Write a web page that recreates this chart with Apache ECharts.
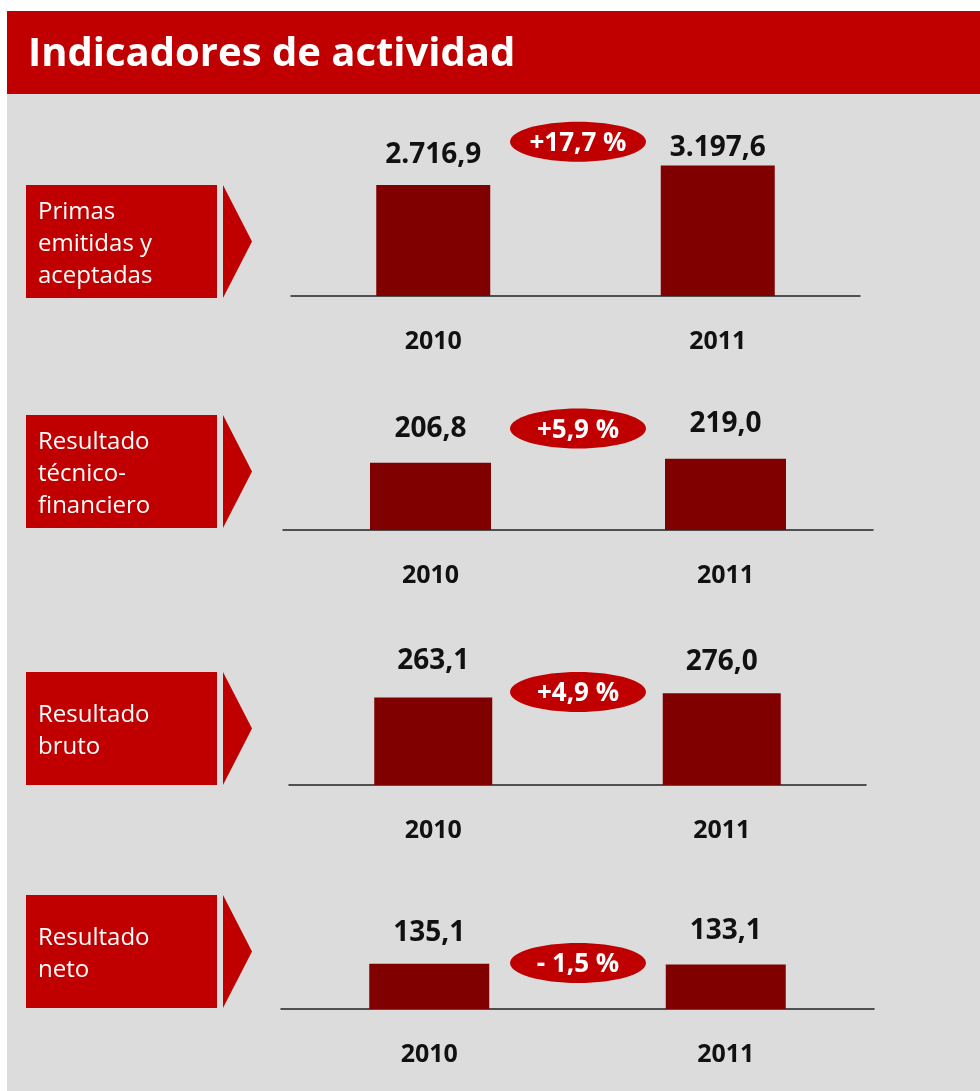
<!DOCTYPE html>
<html>
<head>
<meta charset="utf-8">
<script src="https://cdn.jsdelivr.net/npm/echarts@6/dist/echarts.min.js"></script>
<style>
html,body{margin:0;padding:0;background:#fff;}
#chart{width:980px;height:1091px;}
</style>
</head>
<body>
<div id="chart"></div>
<script>
// ---- data ----
const title = 'Indicadores de actividad';
const categories = ['2010', '2011'];
const panelTitles = ['Primas\nemitidas y\naceptadas', 'Resultado\ntécnico-\nfinanciero', 'Resultado\nbruto', 'Resultado\nneto'];
const primas = [2716.9, 3197.6];
const tecnico = [206.8, 219.0];
const bruto = [263.1, 276.0];
const neto = [135.1, 133.1];
const changes = ['+17,7 %', '+5,9 %', '+4,9 %', '- 1,5 %'];
const seriesData = [primas, tecnico, bruto, neto];

// ---- layout ----
const RED = '#c00000', BAR = '#800000', GRAY = '#dcdcdc';
const FONT = '"Open Sans", "DejaVu Sans", sans-serif';
const layout = [
  {grid:{left:291,width:569,top:100,height:196}, yMax:4800, barWidth:114, labelDist:[16,3], box:[185,298], ey:141.7},
  {grid:{left:283,width:590,top:400,height:130}, yMax:400, barWidth:121, labelDist:[20,21], box:[415,528], ey:428.5},
  {grid:{left:289,width:577,top:652,height:133}, yMax:400, barWidth:118, labelDist:[22,17], box:[672,785], ey:692},
  {grid:{left:281,width:593,top:875,height:134}, yMax:400, barWidth:120, labelDist:[17,19], box:[895,1008], ey:963}
];

function fmt(v){
  const parts = v.toFixed(1).split('.');
  const intPart = parts[0].replace(/\B(?=(\d{3})+(?!\d))/g, '.');
  return intPart + ',' + parts[1];
}

const grids = [], xAxes = [], yAxes = [], series = [];
const graphics = [
  {type:'rect', z:-10, shape:{x:7, y:94, width:973, height:997}, style:{fill:GRAY}},
  {type:'rect', z:-5, shape:{x:7, y:11, width:973, height:83}, style:{fill:RED}},
  {type:'text', z:5, x:28, y:55, style:{text:title, fill:'#fff', font:'bold 40px ' + FONT, verticalAlign:'middle', align:'left'}}
];

layout.forEach((L, i) => {
  grids.push(L.grid);
  xAxes.push({
    type:'category', gridIndex:i, data:categories,
    axisLine:{show:true, lineStyle:{color:'#222', width:1.5}},
    axisTick:{show:false},
    axisLabel:{margin:33, color:'#111', fontFamily:FONT, fontWeight:'bold', fontSize:25}
  });
  yAxes.push({type:'value', gridIndex:i, min:0, max:L.yMax, show:false, splitLine:{show:false}});
  series.push({
    type:'bar', xAxisIndex:i, yAxisIndex:i, barWidth:L.barWidth,
    itemStyle:{color:BAR},
    data: seriesData[i].map((v, j) => ({
      value:v,
      label:{distance:L.labelDist[j]}
    })),
    label:{show:true, position:'top', color:'#111', fontFamily:FONT, fontWeight:'bold', fontSize:28,
      formatter: p => fmt(p.value)},
    silent:true, animation:false
  });
  const [y0, y1] = L.box;
  const ym = (y0 + y1) / 2;
  graphics.push(
    {type:'rect', z:1, shape:{x:26, y:y0, width:191, height:y1 - y0}, style:{fill:RED}},
    {type:'polygon', z:1, shape:{points:[[223,y0],[252,ym],[223,y1]]}, style:{fill:RED}},
    {type:'text', z:2, x:38, y:ym + 3, style:{text:panelTitles[i], fill:'#fff', font:'24px ' + FONT, lineHeight:32, verticalAlign:'middle', align:'left'}},
    {type:'ellipse', z:3, shape:{cx:578, cy:L.ey, rx:68, ry:20}, style:{fill:RED}},
    {type:'text', z:4, x:578, y:L.ey + 2, style:{text:changes[i], fill:'#fff', font:'bold 26px ' + FONT, verticalAlign:'middle', align:'center'}}
  );
});

const chart = echarts.init(document.getElementById('chart'), null, {renderer:'canvas'});
chart.setOption({
  backgroundColor:'#ffffff',
  animation:false,
  grid:grids, xAxis:xAxes, yAxis:yAxes, series:series,
  graphic:{elements:graphics}
});
</script>
</body>
</html>
